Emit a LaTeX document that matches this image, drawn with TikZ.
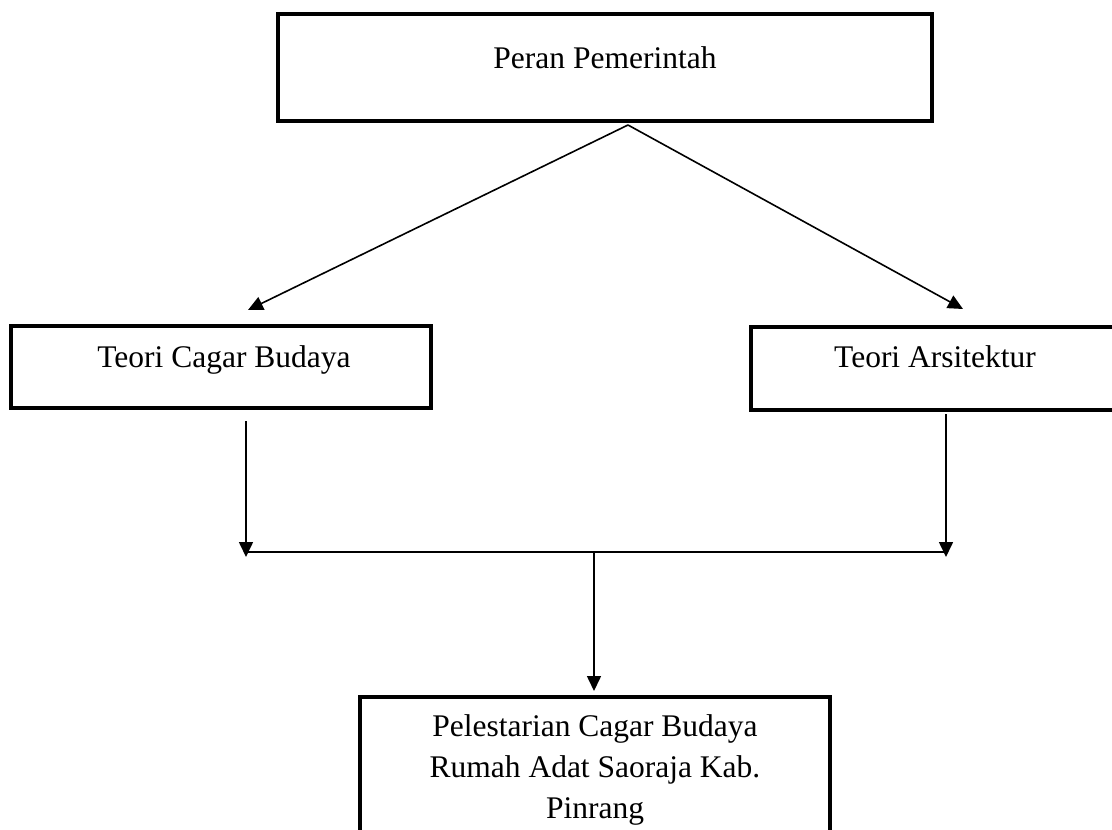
\documentclass[tikz,border=0pt]{standalone}
\usepackage{fontspec}
\setmainfont{Liberation Serif}
\usetikzlibrary{arrows.meta,calc}
\begin{document}
\begin{tikzpicture}[x=1pt,y=-1pt,
  box/.style={draw, line width=4pt, inner sep=0pt},
  lbl/.style={font=\fontsize{31.5}{41}\selectfont, align=center, inner sep=0pt},
  conn/.style={line width=1.6pt, -{Triangle[length=15pt,width=14pt]}},
  bar/.style={line width=2pt}]
\clip (0,0) rectangle (1112,830);
% boxes
\node[box, minimum width=654pt, minimum height=107pt] (top) at (605,67.5) {};
\node[box, minimum width=420pt, minimum height=82pt] (left) at (221,367) {};
\node[box, minimum width=370pt, minimum height=83pt] (right) at (936,368.5) {};
\node[box, minimum width=470pt, minimum height=173pt] (bottom) at (595,783.5) {};
% texts
\node[lbl, anchor=base] (toptext) at (605,68) {Peran Pemerintah};
\node[lbl, anchor=base] (lefttext) at (224,367) {Teori Cagar Budaya};
\node[lbl, anchor=base] (righttext) at (935,367) {Teori Arsitektur};
\node[lbl] (bottomtext) at (595,770) {Pelestarian Cagar Budaya\\Rumah Adat Saoraja Kab.\\Pinrang};
% connector points
\coordinate (src) at ($(top.south)+(23,2)$);
\coordinate (tl) at (248,310);
\coordinate (tr) at (963,309);
\coordinate (jl) at (246,557);
\coordinate (jr) at (946,557);
\coordinate (hl) at (246,552);
\coordinate (hr) at (946,552);
\coordinate (hm) at (594,552);
\coordinate (bt) at ($(bottom.north)+(-1,-4)$);
% connectors
\draw[conn] (src) -- (tl);
\draw[conn] (src) -- (tr);
\draw[conn] ($(left.south -| jl)+(0,11)$) -- (jl);
\draw[conn] ($(right.south -| jr)+(0,2)$) -- (jr);
\draw[bar] (hl) -- (hr);
\draw[conn] (hm) -- (bt);
\end{tikzpicture}
\end{document}
